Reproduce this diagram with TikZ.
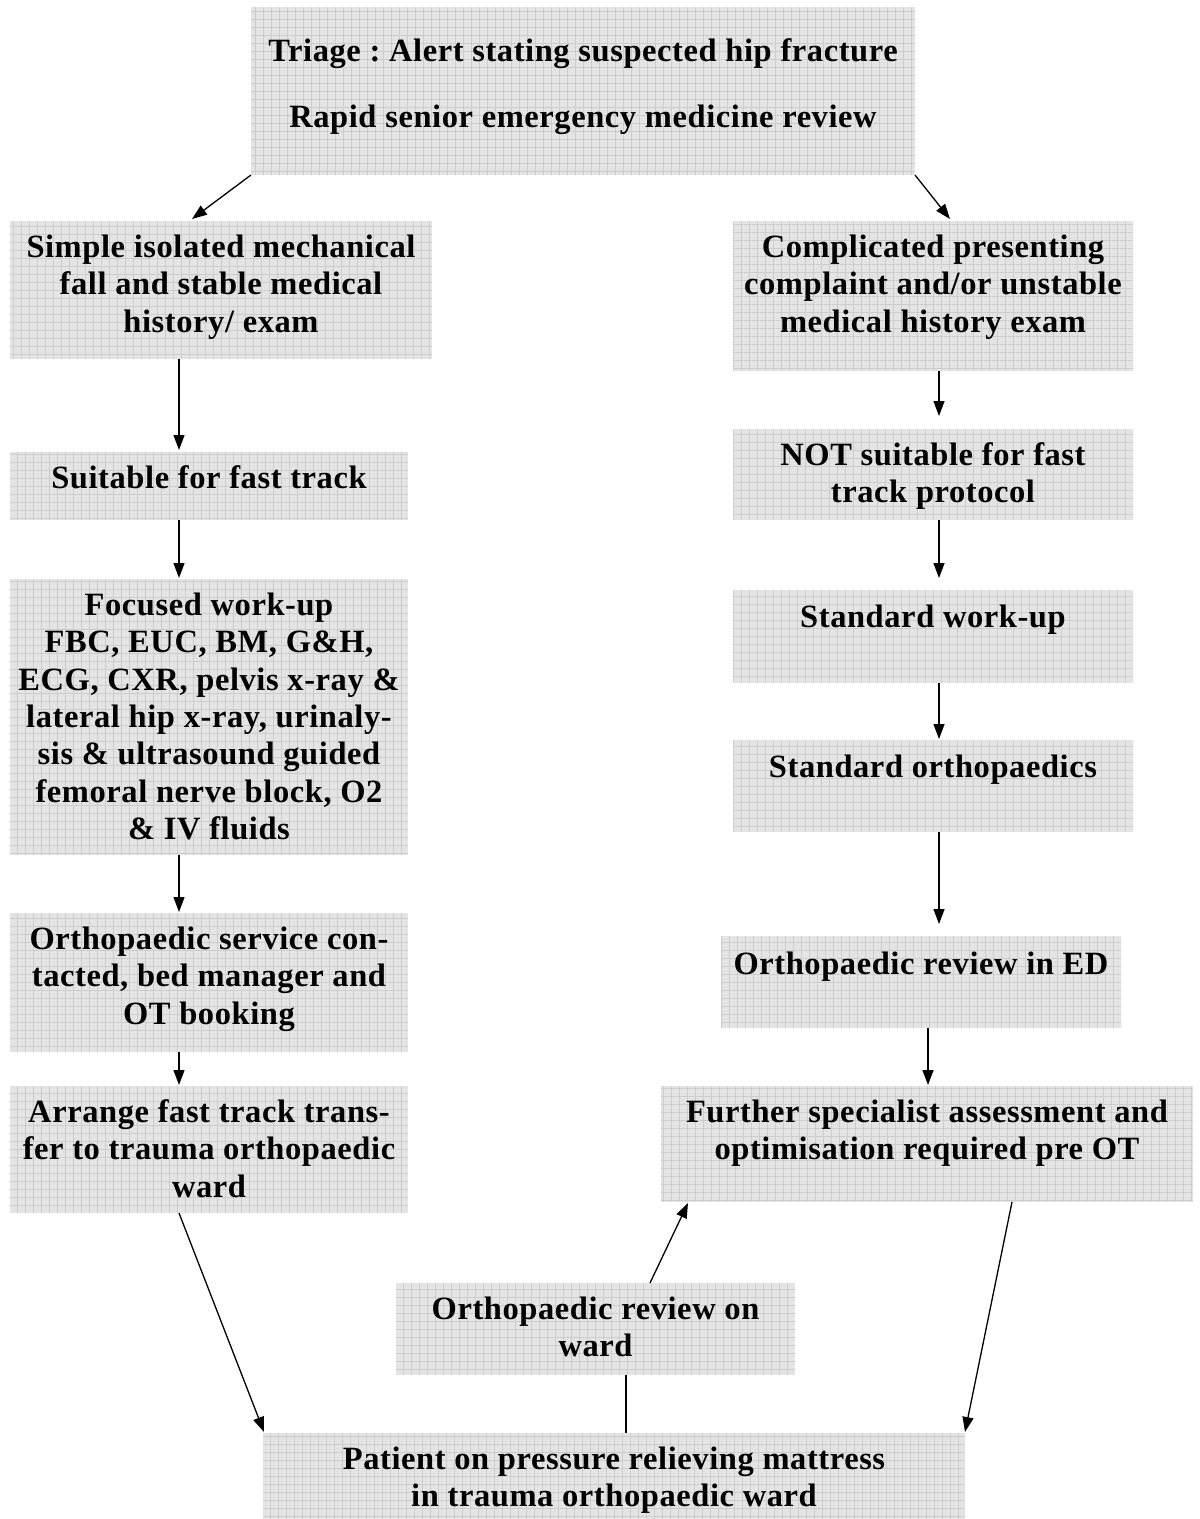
\documentclass[tikz,border=0pt]{standalone}
\usepackage{fontspec}
\setmainfont{Liberation Serif}[LetterSpace=1.8]
\frenchspacing
\usetikzlibrary{calc,arrows.meta}
\definecolor{boxfill}{HTML}{E4E4E4}
\definecolor{gridline}{HTML}{CDCDCD}
\tikzset{
  greybox/.style={anchor=north west, inner sep=0pt, outer sep=0pt, fill=boxfill,
    path picture={\draw[gridline,line width=0.65pt] (path picture bounding box.south west) grid[step=8pt] (path picture bounding box.north east);}},
  btext/.style={anchor=north, inner sep=0pt, align=center, font=\fontsize{32.5}{37.4}\selectfont\bfseries},
  arr/.style={-{Triangle[length=15pt,width=11pt]}, line width=1.3pt},
  plainline/.style={line width=1.3pt},
}
\newcommand\st{\rule{0pt}{30pt}}
\begin{document}
\begin{tikzpicture}[x=1pt,y=-1pt]
\useasboundingbox (0,0) rectangle (1200,1519);
% boxes
\node[greybox, minimum width=664, minimum height=168] (n1) at (251,7) {};
\node[greybox, minimum width=422, minimum height=138] (n2) at (10,221) {};
\node[greybox, minimum width=400, minimum height=150] (n3) at (733,221) {};
\node[greybox, minimum width=398, minimum height=68] (n4) at (10,452) {};
\node[greybox, minimum width=400, minimum height=91] (n5) at (733,429) {};
\node[greybox, minimum width=398, minimum height=276] (n6) at (10,579) {};
\node[greybox, minimum width=400, minimum height=93] (n7) at (733,590) {};
\node[greybox, minimum width=400, minimum height=92] (n8) at (733,740) {};
\node[greybox, minimum width=398, minimum height=139] (n9) at (10,913) {};
\node[greybox, minimum width=400, minimum height=92] (n10) at (721,936) {};
\node[greybox, minimum width=398, minimum height=127] (n11) at (10,1086) {};
\node[greybox, minimum width=532, minimum height=116] (n12) at (661,1086) {};
\node[greybox, minimum width=399, minimum height=92] (n13) at (396,1283) {};
\node[greybox, minimum width=702, minimum height=86] (n14) at (263,1433) {};
% texts
\node[btext] (t1) at ($(n1.north)+(0,24)$) {\st Triage : Alert stating suspected hip fracture\\[28.6pt]Rapid senior emergency medicine review};
\node[btext] (t2) at ($(n2.north)+(0,6)$) {\st Simple isolated mechanical\\fall and stable medical\\history/ exam};
\node[btext] (t3) at ($(n3.north)+(0,6)$) {\st Complicated presenting\\complaint and/or unstable\\medical history exam};
\node[btext] (t4) at ($(n4.north)+(0,6)$) {\st Suitable for fast track};
\node[btext] (t5) at ($(n5.north)+(0,6)$) {\st NOT suitable for fast\\track protocol};
\node[btext] (t6) at ($(n6.north)+(0,6)$) {\st Focused work-up\\FBC, EUC, BM, G\&H,\\ECG, CXR, pelvis x-ray \&\\lateral hip x-ray, urinaly-\\sis \& ultrasound guided\\femoral nerve block, O2\\\& IV fluids};
\node[btext] (t7) at ($(n7.north)+(0,7)$) {\st Standard work-up};
\node[btext] (t8) at ($(n8.north)+(0,7)$) {\st Standard orthopaedics};
\node[btext] (t9) at ($(n9.north)+(0,6)$) {\st Orthopaedic service con-\\tacted, bed manager and\\OT booking};
\node[btext] (t10) at ($(n10.north)+(0,8)$) {\st Orthopaedic review in ED};
\node[btext] (t11) at ($(n11.north)+(0,6)$) {\st Arrange fast track trans-\\fer to trauma orthopaedic\\ward};
\node[btext] (t12) at ($(n12.north)+(0,6)$) {\st Further specialist assessment and\\optimisation required pre OT};
\node[btext] (t13) at ($(n13.north)+(0,6)$) {\st Orthopaedic review on\\ward};
\node[btext] (t14) at ($(n14.north)+(0,6)$) {\st Patient on pressure relieving mattress\\in trauma orthopaedic ward};
% connectors
\draw[arr] (n1.south west) -- ($(n2.north west)+(182,-2)$);
\draw[arr] (n1.south east) -- ($(n3.north west)+(217,-2)$);
\draw[arr] ($(n2.south west)+(169,0)$) -- ($(n4.north west)+(169,-2)$);
\draw[arr] ($(n3.south west)+(206,0)$) -- ($(n5.north west)+(206,-13)$);
\draw[arr] ($(n4.south west)+(169,0)$) -- ($(n6.north west)+(169,-1)$);
\draw[arr] ($(n5.south west)+(206,0)$) -- ($(n7.north west)+(206,-12)$);
\draw[arr] ($(n7.south west)+(206,0)$) -- ($(n8.north west)+(206,-1)$);
\draw[arr] ($(n6.south west)+(169,0)$) -- ($(n9.north west)+(169,-1)$);
\draw[arr] ($(n8.south west)+(206,0)$) -- ($(n10.north west)+(218,-12)$);
\draw[arr] ($(n9.south west)+(169,0)$) -- ($(n11.north west)+(169,-1)$);
\draw[arr] ($(n10.south west)+(207,0)$) -- ($(n12.north west)+(267,-1)$);
\draw[arr] ($(n11.south west)+(169,0)$) -- ($(n14.north west)+(1,-1)$);
\draw[arr] ($(n12.south west)+(351,0)$) -- ($(n14.north east)+(0,-1)$);
\draw[arr] ($(n13.north west)+(254,0)$) -- ($(n12.south west)+(27,1)$);
\draw[plainline] ($(n13.south west)+(230,0)$) -- ($(n14.north west)+(363,0)$);
\end{tikzpicture}
\end{document}
